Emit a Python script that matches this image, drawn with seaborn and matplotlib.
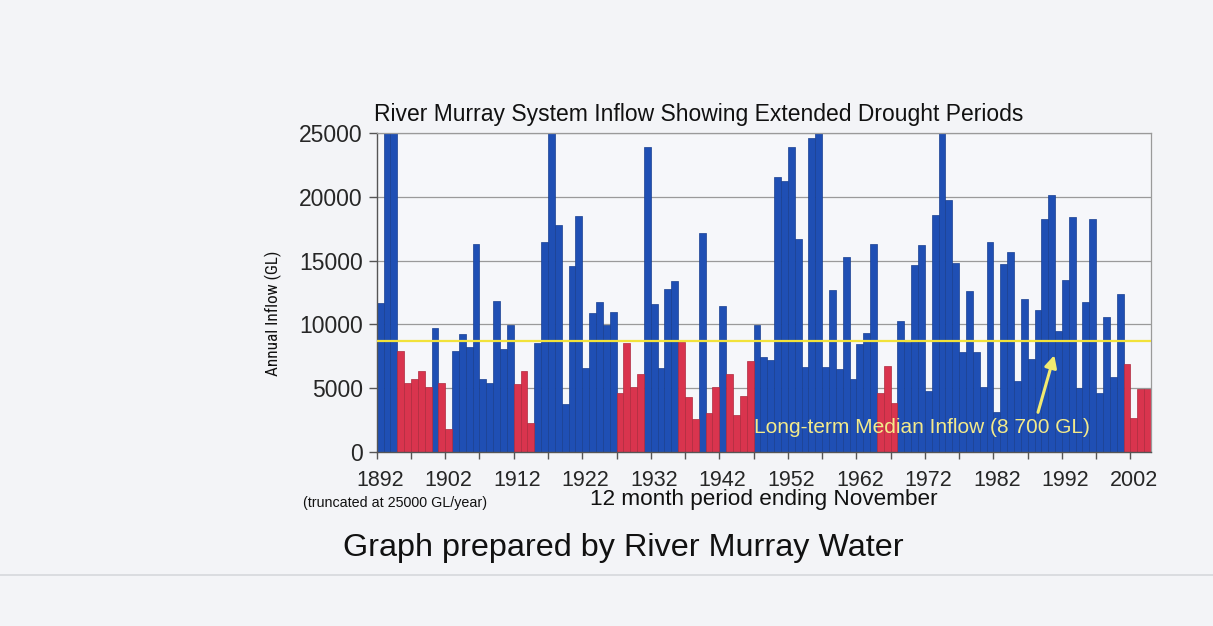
import numpy as np
import pandas as pd
import matplotlib
matplotlib.use("Agg")
import matplotlib.pyplot as plt
from matplotlib.lines import Line2D
from matplotlib import font_manager
import seaborn as sns

# ---------------- data ----------------
first_year = 1892
inflow_gl = [
    11700, 25000, 25000, 7950, 5380, 5720, 6380, 5120, 9740, 5400,   # 1892-1901
    1780, 7900, 9240, 8215, 16330, 5700, 5430, 11810, 8060, 9970,    # 1902-1911
    5300, 6380, 2280, 8530, 16430, 25000, 17800, 3750, 14570, 18500, # 1912-1921
    6610, 10920, 11760, 9950, 10970, 4590, 8560, 5120, 6140, 23910,  # 1922-1931
    11570, 6590, 12810, 13390, 8610, 4280, 2620, 17190, 3040, 5070,  # 1932-1941
    11420, 6120, 2910, 4360, 7170, 9920, 7480, 7220, 21520, 21200,   # 1942-1951
    23880, 16670, 6690, 24570, 25000, 6640, 12730, 6480, 15300, 5720,# 1952-1961
    8430, 9340, 16300, 4650, 6770, 3810, 10240, 8650, 14630, 16260,  # 1962-1971
    4800, 18550, 25000, 19760, 14820, 7840, 12580, 7840, 5080, 16470,# 1972-1981
    3160, 14760, 15680, 5600, 12000, 7260, 11130, 18240, 20160, 9500,# 1982-1991
    13450, 18450, 5030, 11750, 18250, 4620, 10580, 5870, 12370, 6920,# 1992-2001
    2630, 4950, 4950,                                                # 2002-2004
]
drought_periods = [(1895, 1899), (1901, 1902), (1912, 1914), (1927, 1930),
                   (1936, 1938), (1940, 1941), (1943, 1946), (1965, 1967),
                   (2001, 2004)]
median_inflow = 8700
label_years = list(range(1892, 2003, 10))

years = list(range(first_year, first_year + len(inflow_gl)))
period = ["drought" if any(a <= y <= b for a, b in drought_periods) else "other"
          for y in years]
df = pd.DataFrame({"year": years, "inflow": inflow_gl, "period": period})
df["pos"] = np.arange(len(df))

# ---------------- style ----------------
sns.set_theme(style="white")
plt.rcParams["font.family"] = ["Liberation Sans", "DejaVu Sans"]

installed = {f.name for f in font_manager.fontManager.ttflist}
ylab_family = ["Liberation Sans", "DejaVu Sans"]
for cand in ["Liberation Sans Narrow", "Roboto Condensed", "Open Sans Condensed",
             "DejaVu Sans Condensed"]:
    if cand in installed:
        ylab_family = [cand, "DejaVu Sans"]
        break

BG = "#f3f4f7"
BLUE = "#1f4fb4"
RED = "#d9344e"

fig = plt.figure(figsize=(12.13, 6.26), dpi=100, facecolor=BG)
W, H = 1213, 626
ax = fig.add_axes([376.7 / W, 1 - 452 / H, (1151 - 376.7) / W, (452 - 133) / H])
ax.set_facecolor("#f6f7fa")

sns.barplot(data=df, x="pos", y="inflow", hue="period",
            palette={"drought": RED, "other": BLUE}, dodge=False, width=1.0,
            legend=False, ax=ax, linewidth=0.5, edgecolor=None, saturation=1)
for p in ax.patches:
    fc = p.get_facecolor()
    p.set_edgecolor((fc[0] * 0.8, fc[1] * 0.8, fc[2] * 0.8, 1))

ax.set_xlim(-0.5, len(df) - 0.5)
ax.set_ylim(0, 25000)

# grid
ax.set_yticks(range(0, 25001, 5000))
ax.set_yticklabels([str(v) for v in range(0, 25001, 5000)], fontsize=16.5)
ax.yaxis.grid(True, color="#9a9a9a", linewidth=0.9)
ax.set_axisbelow(True)

# x ticks: labels every 10 years at bar centres, tick marks every 5 bars
label_pos = [y - first_year for y in label_years]
ax.set_xticks(label_pos)
ax.set_xticklabels([str(y) for y in label_years], fontsize=15.5)
ax.tick_params(axis="x", which="major", length=0, pad=13)
ax.set_xticks(np.arange(-0.5, len(df), 5), minor=True)
ax.tick_params(axis="x", which="minor", length=5, width=1, color="#555555",
               direction="out", bottom=True)
ax.tick_params(axis="y", length=6, width=1, color="#555555", direction="out",
               left=True, pad=4)

for side in ["top", "right"]:
    ax.spines[side].set_color("#9a9a9a")
    ax.spines[side].set_linewidth(0.9)
for side in ["left", "bottom"]:
    ax.spines[side].set_color("#555555")
    ax.spines[side].set_linewidth(1.0)

ax.set_xlabel("")
ax.set_ylabel("")

# median line
ax.axhline(median_inflow, color="#f2e23a", linewidth=1.6, zorder=5)
ax.annotate("", xy=(98.5, 7800), xytext=(95.9, 2900),
            arrowprops=dict(arrowstyle="-|>", color="#f2ea70", lw=2.2,
                            mutation_scale=18), zorder=6)
ax.text(54.6, 1900, "Long-term Median Inflow (8 700 GL)", color="#f3ea8a",
        fontsize=15, ha="left", va="center", zorder=6)

# texts
ylab = fig.text(273 / W, 1 - 313.5 / H, "Annual Inflow (GL)", rotation=90,
                fontsize=14, family=ylab_family, ha="center", va="center",
                color="#111111")
fig.canvas.draw()
ext = ylab.get_window_extent(renderer=fig.canvas.get_renderer())
ylab.set_fontsize(14 * 126.0 / ext.height)

fig.text(374 / W, 1 - 121.5 / H,
         "River Murray System Inflow Showing Extended Drought Periods",
         fontsize=16.5, ha="left", va="baseline", color="#111111")
fig.text(764 / W, 1 - 505 / H, "12 month period ending November",
         fontsize=16.2, ha="center", va="baseline", color="#111111")
fig.text(303 / W, 1 - 507 / H, "(truncated at 25000 GL/year)",
         fontsize=10.3, ha="left", va="baseline", color="#111111")
fig.text(343 / W, 1 - 556 / H, "Graph prepared by River Murray Water",
         fontsize=23.3, ha="left", va="baseline", color="#111111")

fig.add_artist(Line2D([0.0, 1.0], [1 - 575 / H, 1 - 575 / H],
                      transform=fig.transFigure, color="#d6d8dc", lw=1.2))

fig.savefig("out.png", dpi=100, facecolor=BG)
